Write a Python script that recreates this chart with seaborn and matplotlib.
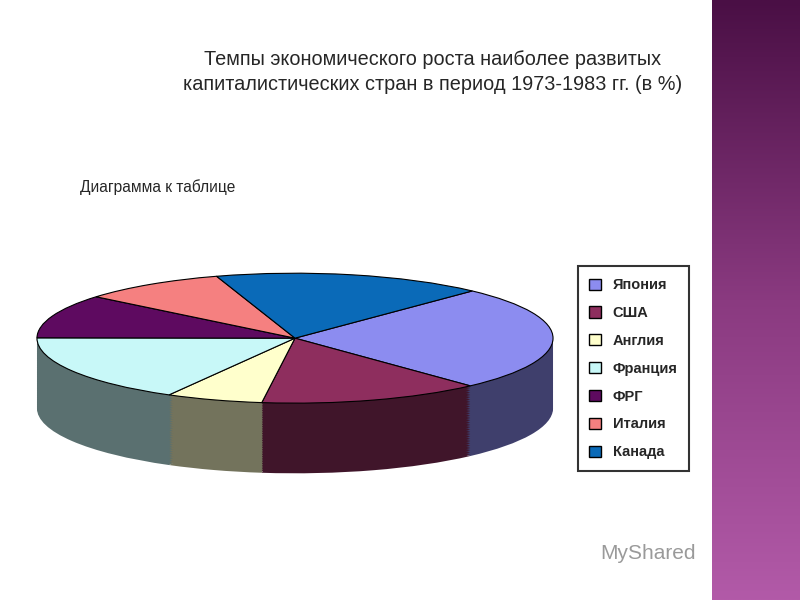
import numpy as np
import matplotlib
matplotlib.use("Agg")
import matplotlib.pyplot as plt
import matplotlib.patches as mpatches
import matplotlib.colors as mcolors
import seaborn as sns

# --- Data ---
countries = ["Япония", "США", "Англия", "Франция", "ФРГ", "Италия", "Канада"]
growth = [4.3, 2.3, 1.0, 2.8, 1.8, 1.5, 2.8]
colors = ["#8C8CF0", "#8E2E5E", "#FFFFCC", "#C8F8F8", "#5E0A60", "#F58080", "#0A6AB8"]

TITLE = "Темпы экономического роста наиболее развитых\nкапиталистических стран в период 1973-1983 гг. (в %)"
SUBTITLE = "Диаграмма к таблице"

sns.set_theme(style="white")
plt.rcParams["font.family"] = ["Liberation Sans", "DejaVu Sans"]

fig = plt.figure(figsize=(8, 6), dpi=100)
fig.patch.set_facecolor("white")

# purple band on the right
band = fig.add_axes([0.89, 0, 0.11, 1])
grad = np.linspace(0, 1, 256).reshape(-1, 1)
band.imshow(grad, aspect="auto", cmap=mcolors.LinearSegmentedColormap.from_list(
    "p", ["#4a0f45", "#8a3a80", "#b25aa8"]))
band.axis("off")

# --- 3D-ish pie ---
ax = fig.add_axes([0.0375, 0.183, 0.6625, 0.4])
depth = 1.08
side_colors = [tuple(c * 0.45 for c in mcolors.to_rgb(col)) for col in colors]
for d in np.linspace(depth, 0.02, 40):
    ax.pie(growth, colors=side_colors, startangle=46.6, counterclock=False,
           center=(0, -d), radius=1, wedgeprops=dict(linewidth=0))
ax.pie(growth, colors=colors, startangle=46.6, counterclock=False,
       center=(0, 0), radius=1, wedgeprops=dict(edgecolor="black", linewidth=0.8))
ax.set_aspect("auto")
ax.set_xlim(-1.027, 1.027)
ax.set_ylim(-2.34, 1.354)
ax.axis("off")

# --- texts ---
fig.text(0.541, 0.88, TITLE, ha="center", va="center", fontsize=14.3, linespacing=1.35)
fig.text(0.1, 0.688, SUBTITLE, ha="left", va="center", fontsize=11.2)
fig.text(0.81, 0.077, "MyShared", ha="center", va="center", fontsize=15, color="#9a9a9a")

handles = [mpatches.Patch(facecolor=c, edgecolor="black", label=n) for n, c in zip(countries, colors)]
leg = fig.legend(handles=handles, loc="upper left", bbox_to_anchor=(0.713, 0.568),
                 frameon=True, fancybox=False, edgecolor="black",
                 prop={"weight": "bold", "size": 10.5}, handlelength=0.8, handleheight=0.8,
                 labelspacing=0.95, borderpad=0.8)
leg.get_frame().set_linewidth(1.5)

fig.savefig("out.png", dpi=100)
